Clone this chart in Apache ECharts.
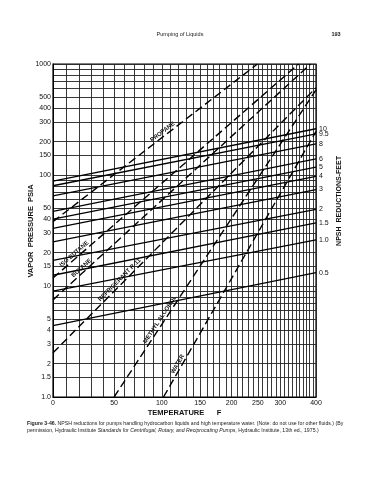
<!DOCTYPE html>
<html><head><meta charset="utf-8">
<script src="https://cdn.jsdelivr.net/npm/echarts@6/dist/echarts.min.js"></script>
<style>html,body{margin:0;padding:0;background:#fff}#c{width:372px;height:480px}</style>
</head><body><div id="c"></div>
<script>
// ---- axis ticks ----
const tempLabels = [0, 50, 100, 150, 200, 250, 300, 400];
const tempGrid = [0,10,20,30,40,50,60,70,80,90,100,110,120,130,140,150,160,170,180,190,200,
  210,220,230,240,250,260,270,280,290,300,310,320,330,340,350,360,370,380,390,400];
const pressLabels = [1, 1.5, 2, 3, 4, 5, 10, 15, 20, 30, 40, 50, 100, 150, 200, 300, 400, 500, 1000];
const pressLabelText = ['1.0','1.5','2','3','4','5','10','15','20','30','40','50','100','150','200','300','400','500','1000'];
const pressGrid = [1,1.5,2,3,4,5,6,7,8,9,10,15,20,30,40,50,60,70,80,90,100,150,200,300,400,500,600,700,800,900,1000];

// ---- fluid vapor pressure lines (dashed) ----
const fluids = ['PROPANE', 'ISO BUTANE', 'BUTANE', 'REFRIGERANT R-11', 'METHYL ALCOHOL', 'WATER'];
const fluidT0 = [0, 0, 0, 0, 50, 102];
const fluidP0 = [38, 11.8, 7.5, 2.5, 1.0, 1.0];
const fluidT1 = [249, 348, 383, 400, 400, 400];
const fluidP1 = [1000, 1000, 1000, 610, 585, 247];
const fluidLabelT = [104, 18, 24, 58, 102, 124];

// ---- NPSH reduction lines (solid), psia at 0 F and at 400 F ----
const npshLabels = ['10', '9.5', '8', '6', '5', '4', '3', '2', '1.5', '1.0', '0.5'];
const npshLeft  = [88, 80, 65, 47, 40, 33, 25, 17, 12.5, 9.0, 4.4];
const npshRight = [261, 235, 191, 140, 118, 97, 74, 49, 37, 26, 13.2];

// ---- scale transforms ----
const C = 358;
const tx = T => 1e5 * (1 / C - 1 / (T + C));
const txInv = u => 1 / (1 / C - u / 1e5) - C;
const ty = P => Math.log10(P);

const FONT = 'Liberation Sans, Arial, sans-serif';
const chart = echarts.init(document.getElementById('c'), null, {renderer: 'canvas'});

const series = [];
npshLabels.forEach((n, i) => {
  series.push({
    type: 'line', name: n, silent: true, symbol: 'none', animation: false,
    data: [[tx(0), ty(npshLeft[i])], [tx(400), ty(npshRight[i])]],
    lineStyle: {color: '#000', width: 1.3},
    endLabel: {show: true, formatter: '{a}', fontSize: 7, color: '#111', fontFamily: FONT, distance: 3},
    z: 3
  });
});
fluids.forEach((n, i) => {
  series.push({
    type: 'line', name: n, silent: true, symbol: 'none', animation: false,
    data: [[tx(fluidT0[i]), ty(fluidP0[i])], [tx(fluidT1[i]), ty(fluidP1[i])]],
    lineStyle: {color: '#000', width: 1.4, type: [8, 4]},
    z: 4
  });
});

chart.setOption({
  backgroundColor: '#fff',
  animation: false,
  grid: {left: 53, top: 64, right: 56, bottom: 83, show: true, borderColor: '#000', borderWidth: 1.2},
  xAxis: {
    type: 'value', min: 0, max: tx(400),
    name: 'TEMPERATURE      F', nameLocation: 'middle', nameGap: 12, nameMoveOverlap: false,
    nameTextStyle: {fontSize: 7.5, fontWeight: 'bold', color: '#111', fontFamily: FONT},
    axisLine: {show: true, lineStyle: {color: '#000'}},
    axisTick: {show: false, customValues: tempGrid.map(tx)},
    axisLabel: {customValues: tempLabels.map(tx), formatter: v => String(Math.round(txInv(v))),
      fontSize: 7, color: '#111', margin: 3, fontFamily: FONT},
    splitLine: {show: true, lineStyle: {color: '#222', width: 0.9}}
  },
  yAxis: {
    type: 'value', min: 0, max: 3,
    axisLine: {show: true, lineStyle: {color: '#000'}},
    axisTick: {show: false, customValues: pressGrid.map(ty)},
    axisLabel: {customValues: pressLabels.map(ty), fontSize: 7, color: '#111', margin: 2, fontFamily: FONT,
      formatter: v => {
        let best = 0, bd = 1e9;
        pressLabels.forEach((p, k) => { const d = Math.abs(ty(p) - v); if (d < bd) { bd = d; best = k; } });
        return pressLabelText[best];
      }},
    splitLine: {show: true, lineStyle: {color: '#222', width: 0.9}}
  },
  series: series
});

// fluid labels along their lines
const graphics = [];
fluids.forEach((n, i) => {
  const a = chart.convertToPixel({gridIndex: 0}, [tx(fluidT0[i]), ty(fluidP0[i])]);
  const b = chart.convertToPixel({gridIndex: 0}, [tx(fluidT1[i]), ty(fluidP1[i])]);
  const ut = tx(fluidLabelT[i]);
  const f = (ut - tx(fluidT0[i])) / (tx(fluidT1[i]) - tx(fluidT0[i]));
  const ly = ty(fluidP0[i]) + f * (ty(fluidP1[i]) - ty(fluidP0[i]));
  const p = chart.convertToPixel({gridIndex: 0}, [ut, ly]);
  const ang = Math.atan2(-(b[1] - a[1]), b[0] - a[0]);
  const off = 4.2;
  graphics.push({
    type: 'text', x: p[0] - Math.sin(ang) * off, y: p[1] - Math.cos(ang) * off, rotation: ang,
    style: {text: n, font: 'bold 6px ' + FONT, fill: '#111', align: 'center', verticalAlign: 'middle'}, z: 10
  });
});
graphics.push(
  {type: 'text', x: 180, y: 34, style: {text: 'Pumping of Liquids', font: '5.5px ' + FONT, fill: '#222', align: 'center', verticalAlign: 'middle'}},
  {type: 'text', x: 336, y: 34, style: {text: '193', font: 'bold 5.5px ' + FONT, fill: '#222', align: 'center', verticalAlign: 'middle'}},
  {type: 'text', x: 30.5, y: 231, rotation: Math.PI / 2,
    style: {text: 'VAPOR  PRESSURE  PSIA', font: 'bold 7.5px ' + FONT, fill: '#111', align: 'center', verticalAlign: 'middle'}},
  {type: 'text', x: 339, y: 201, rotation: Math.PI / 2,
    style: {text: 'NPSH  REDUCTIONS-FEET', font: 'bold 7px ' + FONT, fill: '#111', align: 'center', verticalAlign: 'middle'}},
  {type: 'text', x: 27, y: 423.5, style: {
    text: '{b|Figure 3-46.} NPSH reductions for pumps handling hydrocarbon liquids and high temperature water. (Note: do not use for other fluids.) (By',
    font: '5.2px ' + FONT, fill: '#222', verticalAlign: 'middle',
    rich: {b: {fontWeight: 'bold', fontSize: 5.2, fontFamily: FONT}}}},
  {type: 'text', x: 27, y: 431, style: {
    text: 'permission, Hydraulic Institute {i|Standards for Centrifugal, Rotary, and Reciprocating Pumps}, Hydraulic Institute, 13th ed., 1975.)',
    font: '5.2px ' + FONT, fill: '#222', verticalAlign: 'middle',
    rich: {i: {fontStyle: 'italic', fontSize: 5.2, fontFamily: FONT}}}}
);
chart.setOption({graphic: graphics});
</script></body></html>
